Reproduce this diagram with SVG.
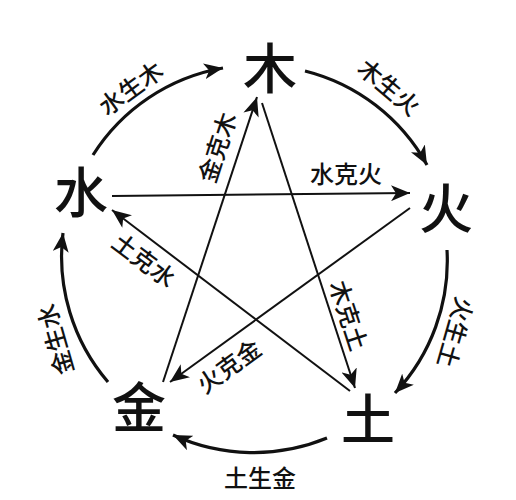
<svg xmlns="http://www.w3.org/2000/svg" width="516" height="500" viewBox="0 0 516 500">
<style>
.big{font-family:"Noto Sans CJK SC","Noto Sans CJK JP",sans-serif;font-size:54px;font-weight:500;fill:#111;text-anchor:middle;dominant-baseline:central}
.lbl{font-family:"Noto Sans CJK SC","Noto Sans CJK JP",sans-serif;font-size:24px;font-weight:500;fill:#111;text-anchor:middle;dominant-baseline:central}
.gen{fill:none;stroke:#111;stroke-width:3.2;marker-end:url(#ah)}
.ke{fill:none;stroke:#111;stroke-width:2;marker-end:url(#ah)}
</style>
<defs>
<marker id="ah" markerUnits="userSpaceOnUse" markerWidth="20" markerHeight="16" viewBox="0 0 20 16" refX="19" refY="8" orient="auto">
<path d="M0,0 L19,8 L0,16 L5,8 z" fill="#111"/>
</marker>
</defs>
<rect width="516" height="500" fill="#fff"/>
<g id="connectors">
<path id="c-shui-mu" class="gen" d="M93,155 A193,193 0 0,1 223,68"/>
<path id="c-mu-huo" class="gen" d="M305,71 A193,193 0 0,1 427,165"/>
<path id="c-huo-tu" class="gen" d="M447,250 A193,193 0 0,1 395,393"/>
<path id="c-tu-jin" class="gen" d="M327,438 A193,193 0 0,1 173,435"/>
<path id="c-jin-shui" class="gen" d="M108,382 A193,193 0 0,1 63,233"/>
<path id="k-jin-mu" class="ke" d="M163,382 L257,97"/>
<path id="k-mu-tu" class="ke" d="M262,103 L355,388"/>
<path id="k-shui-huo" class="ke" d="M112,196 L410,193"/>
<path id="k-huo-jin" class="ke" d="M410,208 L170,382"/>
<path id="k-tu-shui" class="ke" d="M350,391 L112,210"/>
<text class="lbl" transform="translate(130,87) rotate(-36)">水生木</text>
<text class="lbl" transform="translate(390,86) rotate(40)">木生火</text>
<text class="lbl" transform="translate(457,333) rotate(106)">火生土</text>
<text class="lbl" x="260" y="476">土生金</text>
<text class="lbl" transform="translate(54,340) rotate(-106)">金生水</text>
<text class="lbl" transform="translate(216,147) rotate(-72)">金克木</text>
<text class="lbl" transform="translate(350,315) rotate(72)">木克土</text>
<text class="lbl" x="346" y="172">水克火</text>
<text class="lbl" transform="translate(228,365) rotate(-36)">火克金</text>
<text class="lbl" transform="translate(145,259) rotate(37)">土克水</text>
</g>
<g id="node-mu"><text class="big" x="270" y="65">木</text></g>
<g id="node-huo"><text class="big" x="446" y="205">火</text></g>
<g id="node-tu"><text class="big" x="368" y="416">土</text></g>
<g id="node-jin"><text class="big" x="139" y="404">金</text></g>
<g id="node-shui"><text class="big" x="81" y="189">水</text></g>
</svg>
